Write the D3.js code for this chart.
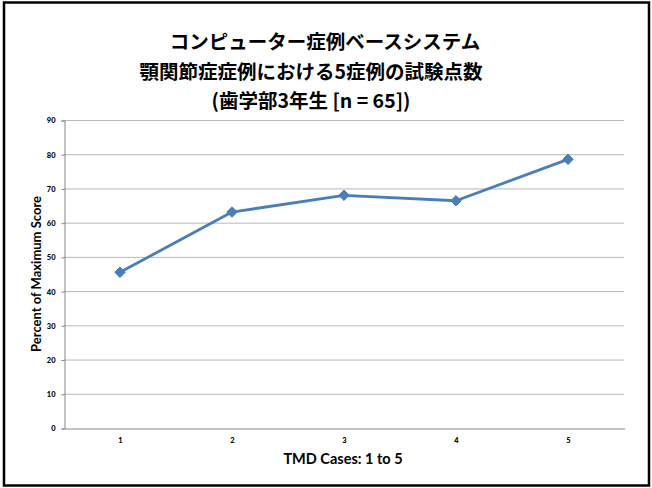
<!DOCTYPE html>
<html>
<head>
<meta charset="utf-8">
<script src="https://cdn.jsdelivr.net/npm/d3@7"></script>
<style>
  html, body { margin: 0; padding: 0; background: #fff; }
  svg { display: block; }
</style>
</head>
<body>
<svg id="chart" width="652" height="488"></svg>
<script>
// Chart data
const cases = ["1", "2", "3", "4", "5"];
const scores = [45.5, 63.1, 68.0, 66.4, 78.5];
const yTicks = [0, 10, 20, 30, 40, 50, 60, 70, 80, 90];
const titleLines = [
  "コンピューター症例ベースシステム",
  "顎関節症症例における5症例の試験点数",
  "(歯学部3年生 [n = 65])"
];
const xTitle = "TMD Cases: 1 to 5";
const yTitle = "Percent of Maximum Score";

const svg = d3.select("#chart");
const plot = { left: 64, right: 624, top: 120, bottom: 428 };
const latin = "Lato, 'Open Sans', 'Liberation Sans', sans-serif";
const cjk = "'Noto Sans CJK JP', 'Noto Sans', sans-serif";

// outer frame
svg.append("rect")
  .attr("x", 4).attr("y", 2.5)
  .attr("width", 645).attr("height", 483)
  .attr("fill", "#fff")
  .attr("stroke", "#000")
  .attr("stroke-width", 2.5);

// title
const titleX = [325, 311, 311];
svg.append("g").selectAll("text")
  .data(titleLines)
  .join("text")
  .attr("x", (d, i) => titleX[i])
  .attr("y", (d, i) => 49 + i * 29.5)
  .attr("text-anchor", "middle")
  .attr("font-family", cjk)
  .attr("font-weight", 700)
  .attr("font-size", 19.5)
  .attr("fill", "#000")
  .text(d => d);

const x = d3.scaleBand().domain(cases).range([plot.left, plot.right]);
const y = d3.scaleLinear().domain([0, 90]).range([plot.bottom, plot.top]);

// horizontal gridlines
svg.append("g").selectAll("line")
  .data(yTicks.filter(t => t > 0))
  .join("line")
  .attr("x1", plot.left).attr("x2", plot.right)
  .attr("y1", d => y(d) + 0.5).attr("y2", d => y(d) + 0.5)
  .attr("stroke", "#b8b8b8")
  .attr("stroke-width", 1);

// y axis
const yAxis = svg.append("g")
  .attr("transform", `translate(${plot.left + 0.5},0.5)`)
  .call(d3.axisLeft(y).tickValues(yTicks).tickSize(3).tickPadding(6).tickFormat(d3.format("d")));
yAxis.select(".domain").attr("stroke", "#868686");
yAxis.selectAll(".tick line").attr("stroke", "#868686");
yAxis.selectAll("text")
  .attr("font-family", latin).attr("font-weight", 900)
  .attr("font-size", 7.5).attr("fill", "#000");

// x axis
const xAxis = svg.append("g")
  .attr("transform", `translate(0.5,${plot.bottom + 0.5})`)
  .call(d3.axisBottom(x).tickSize(0).tickPadding(9));
xAxis.select(".domain").attr("stroke", "#868686");
xAxis.selectAll("text")
  .attr("font-family", latin).attr("font-weight", 900)
  .attr("font-size", 7.5).attr("fill", "#000");

// axis titles
svg.append("text")
  .attr("x", 343).attr("y", 464)
  .attr("text-anchor", "middle")
  .attr("font-family", latin).attr("font-weight", 700)
  .attr("font-size", 14.5).attr("fill", "#000")
  .text(xTitle);

svg.append("text")
  .attr("transform", `translate(41,${(plot.top + plot.bottom) / 2}) rotate(-90)`)
  .attr("text-anchor", "middle")
  .attr("font-family", latin).attr("font-weight", 700)
  .attr("font-size", 13).attr("fill", "#000")
  .text(yTitle);

// series line
const pts = cases.map((c, i) => ({ c, v: scores[i] }));
const cx = d => x(d.c) + x.bandwidth() / 2;
svg.append("path")
  .datum(pts)
  .attr("fill", "none")
  .attr("stroke", "#4a7ebb")
  .attr("stroke-width", 2.8)
  .attr("stroke-linejoin", "round")
  .attr("d", d3.line().x(cx).y(d => y(d.v)));

// diamond markers
svg.append("g").selectAll("path")
  .data(pts)
  .join("path")
  .attr("transform", d => `translate(${cx(d)},${y(d.v)})`)
  .attr("d", d3.symbol().type(d3.symbolDiamond2).size(70))
  .attr("fill", "#4a7ebb")
  .attr("stroke", "#4a7ebb")
  .attr("stroke-width", 1);
</script>
</body>
</html>
